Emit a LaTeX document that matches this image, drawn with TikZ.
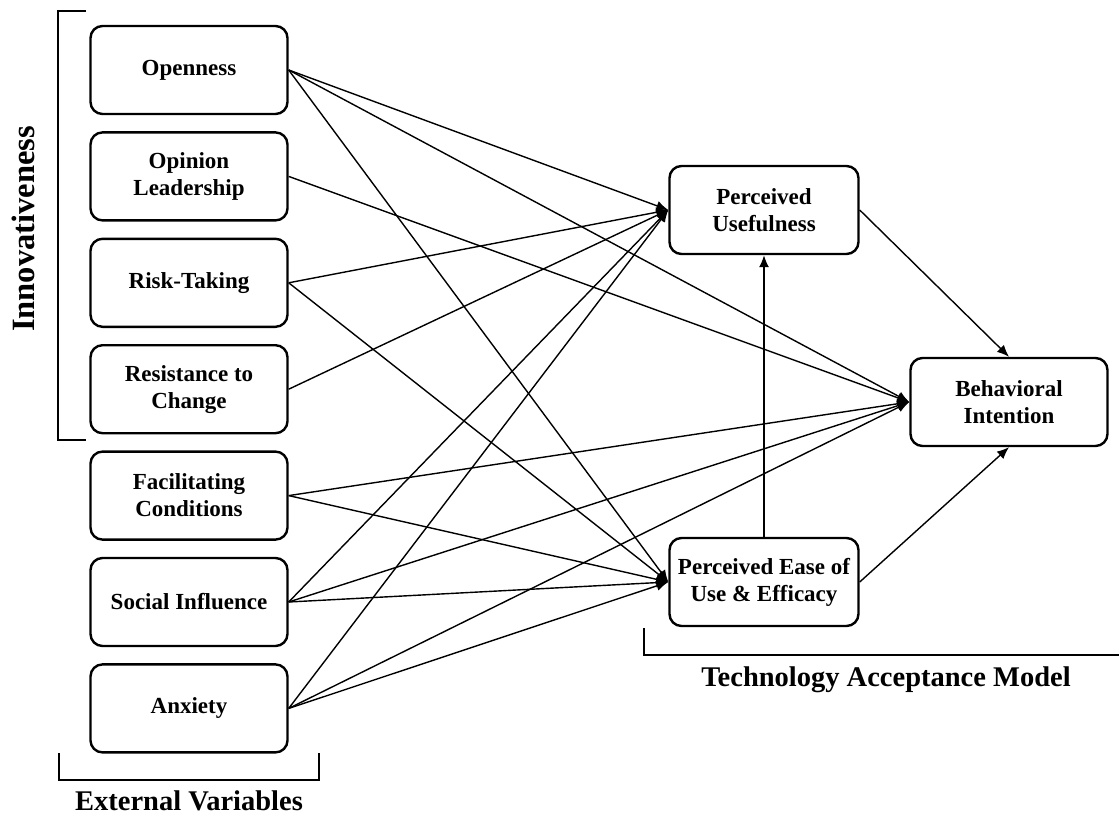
\documentclass[tikz,border=0pt]{standalone}
\usepackage{fontspec}
\setmainfont{Liberation Serif}
\usetikzlibrary{arrows.meta}
\begin{document}
\begin{tikzpicture}[x=1pt,y=-1pt,
 box/.style={draw,line width=2.4pt,rounded corners=12pt,minimum width=197pt,minimum height=88pt,align=center,font=\fontsize{23}{27}\selectfont\bfseries,inner sep=0pt},
 conn/.style={line width=1.4pt,-{Latex[length=12pt,width=10pt]}},
 brk/.style={line width=2.8pt},
 lab/.style={font=\fontsize{28.5}{33}\selectfont\bfseries,inner sep=0pt}]
\useasboundingbox (0,0) rectangle (1119,816);
% left boxes
\node[box] (op) at (189,70) {Openness};
\node[box] (ol) at (189,176.4) {Opinion\\Leadership};
\node[box] (rt) at (189,282.8) {Risk-Taking};
\node[box] (rc) at (189,389.2) {Resistance to\\Change};
\node[box] (fc) at (189,495.6) {Facilitating\\Conditions};
\node[box] (si) at (189,602) {Social Influence};
\node[box] (ax) at (189,708.4) {Anxiety};
% right boxes
\node[box,minimum width=189pt] (pu) at (764,210) {Perceived\\Usefulness};
\node[box,minimum width=189pt] (peu) at (764,582) {Perceived Ease of\\Use \& Efficacy};
\node[box] (bi) at (1009,402) {Behavioral\\Intention};
% connectors to PU
\foreach \s in {op,rt,rc,si,ax} \draw[conn] (\s.east) -- (pu.west);
% connectors to BI
\foreach \s in {op,ol,fc,si,ax} \draw[conn] (\s.east) -- (bi.west);
% connectors to PEU
\foreach \s in {op,rt,fc,si,ax} \draw[conn] (\s.east) -- (peu.west);
\draw[conn] (pu.east) -- (bi.north);
\draw[conn] (peu.east) -- (bi.south);
\draw[conn] (peu.north) -- (pu.south);
% brackets
\coordinate (i1) at (86,11);
\coordinate (i2) at (58,11);
\coordinate (i3) at (58,440);
\coordinate (i4) at (86,440);
\draw[brk] (i1) -- (i2) -- (i3) -- (i4);
\node[lab,rotate=90,font=\fontsize{32.5}{36}\selectfont\bfseries] (inn) at (23,229) {Innovativeness};
\coordinate (e1) at (59,753);
\coordinate (e2) at (59,780);
\coordinate (e3) at (319,780);
\coordinate (e4) at (319,753);
\draw[brk] (e1) -- (e2) -- (e3) -- (e4);
\node[lab] (ext) at (189,801) {External Variables};
\coordinate (t1) at (644,628);
\coordinate (t2) at (644,655);
\coordinate (t3) at (1119,655);
\draw[brk] (t1) -- (t2) -- (t3);
\node[lab] (tam) at (886,680) {Technology Acceptance Model};
\end{tikzpicture}
\end{document}
